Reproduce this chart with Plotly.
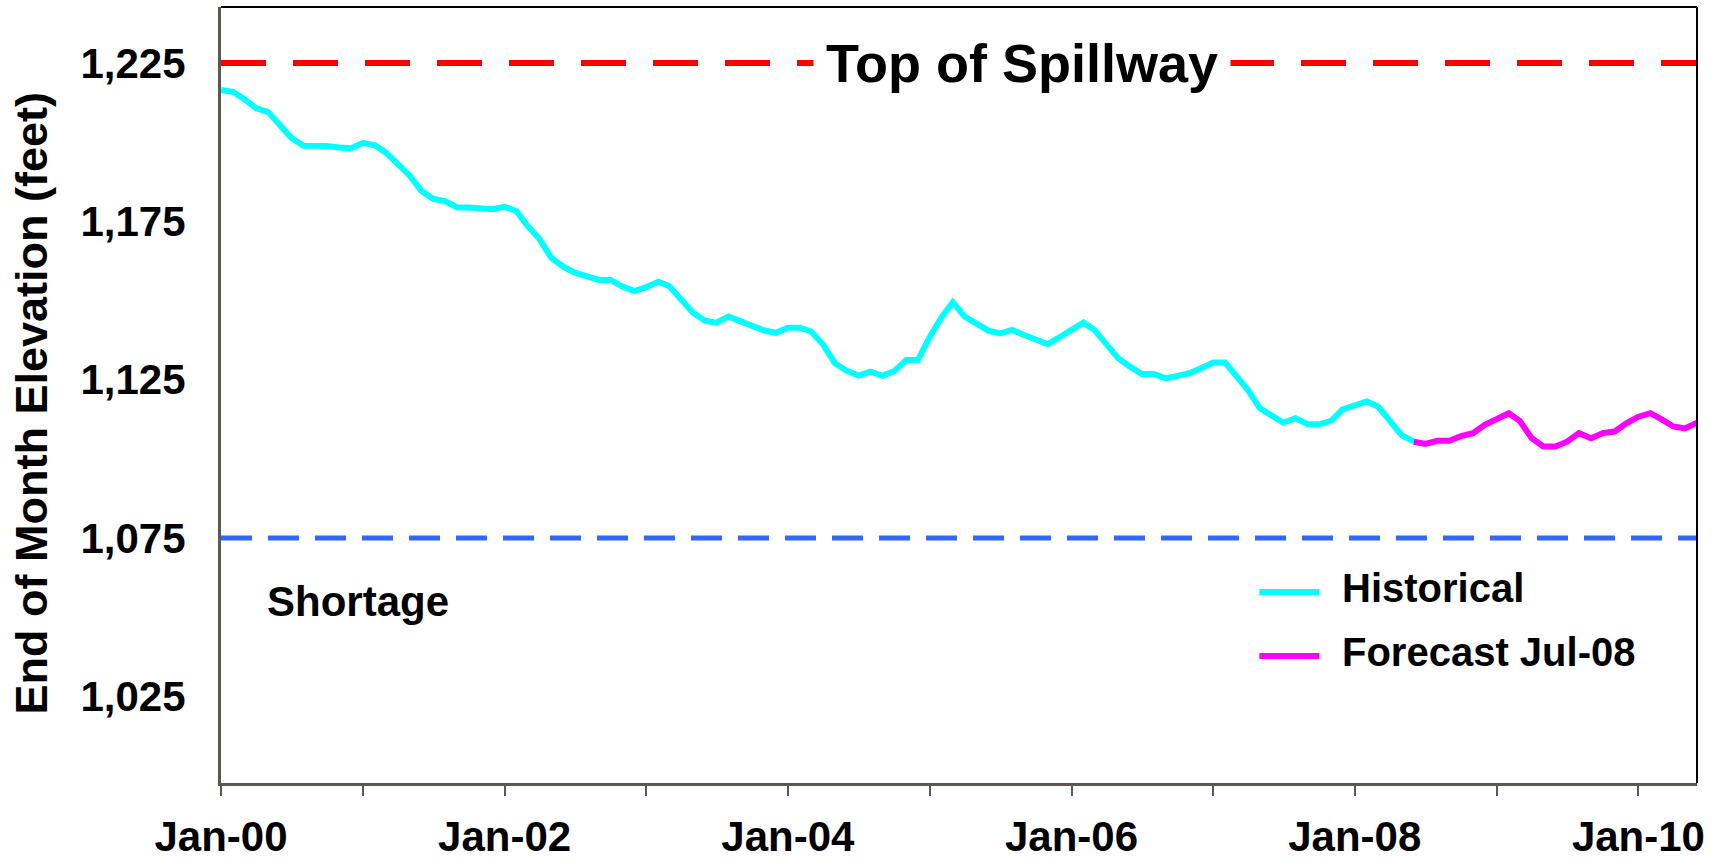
import pandas as pd
import plotly.graph_objects as go

# end-of-month elevations (feet), monthly from Jan-2000
hist_start = "2000-01-01"
hist_values = [
    1216.5, 1215.9, 1213.6, 1210.7, 1209.6, 1205.6, 1201.3, 1198.9, 1198.9, 1198.8, 1198.3, 1198.1,
    1199.8, 1199.0, 1196.7, 1192.7, 1189.5, 1184.6, 1182.1, 1181.4, 1179.4, 1179.4, 1178.9, 1178.8,
    1179.6, 1178.2, 1173.6, 1169.4, 1163.5, 1160.7, 1158.8, 1157.8, 1156.5, 1156.5, 1154.4, 1153.0,
    1154.2, 1155.9, 1154.6, 1150.3, 1146.2, 1143.6, 1143.0, 1144.9, 1143.3, 1142.0, 1140.5, 1139.8,
    1141.4, 1141.4, 1140.2, 1136.0, 1130.2, 1127.8, 1126.3, 1127.5, 1126.2, 1127.7, 1131.2, 1131.2,
    1138.6, 1144.9, 1149.4, 1144.9, 1142.8, 1140.5, 1139.6, 1140.7, 1139.1, 1137.5, 1136.2, 1138.4,
    1140.7, 1143.0, 1140.7, 1136.5, 1131.8, 1129.1, 1126.8, 1126.8, 1125.4, 1126.2, 1127.0, 1128.6,
    1130.4, 1130.4, 1126.0, 1121.7, 1116.0, 1113.5, 1111.4, 1112.8, 1111.0, 1110.9, 1112.0, 1115.6,
    1117.0, 1118.1, 1116.5, 1111.7, 1107.5, 1105.4,
]
fc_start = "2008-06-01"
fc_values = [
    1105.4, 1104.7, 1105.7, 1105.7, 1107.2, 1108.1, 1110.7, 1112.8, 1114.4, 1112.0, 1106.5, 1103.9,
    1103.9, 1105.4, 1108.1, 1106.5, 1108.1, 1108.6, 1111.2, 1113.3, 1114.4, 1112.5, 1110.2, 1109.6,
    1111.4,
]
spillway = 1225
shortage = 1075
y_ticks = [1025, 1075, 1125, 1175, 1225]

hist_dates = pd.date_range(hist_start, periods=len(hist_values), freq="MS")
fc_dates = pd.date_range(fc_start, periods=len(fc_values), freq="MS")

FONT = "Liberation Sans, Arial, sans-serif"
AXIS_GRAY = "#5d5651"

fig = go.Figure()
fig.add_trace(go.Scatter(x=hist_dates, y=hist_values, mode="lines", name="Historical",
                         line=dict(color="#00ffff", width=6)))
fig.add_trace(go.Scatter(x=fc_dates, y=fc_values, mode="lines", name="Forecast Jul-08",
                         line=dict(color="#ff00ff", width=6)))

fig.add_hline(y=spillway, line=dict(color="#ff0000", width=6, dash="45px,27px"), layer="below")
fig.add_hline(y=shortage, line=dict(color="#3366ff", width=5, dash="31px,16px"), layer="below")

# plot frame: top and right edges in black
fig.add_shape(type="line", xref="paper", yref="paper", x0=0, x1=1, y0=1, y1=1,
              line=dict(color="black", width=2))
fig.add_shape(type="line", xref="paper", yref="paper", x0=1, x1=1, y0=0, y1=1,
              line=dict(color="black", width=2))

fig.add_annotation(x=0.5425, xref="paper", y=spillway, yref="y", text="Top of Spillway",
                   showarrow=False, bgcolor="white", borderpad=12,
                   font=dict(family=FONT, size=54, color="black", weight="bold"))
fig.add_annotation(x=0.0295, xref="paper", xanchor="left", y=1055, yref="y", yanchor="middle",
                   text="Shortage", showarrow=False,
                   font=dict(family=FONT, size=42, color="black", weight="bold"))

# y-axis title as a rotated annotation (sits a little below the plot's centre)
fig.add_annotation(x=-0.1281, xref="paper", xanchor="center", y=0.489, yref="paper",
                   yanchor="middle", textangle=-90, showarrow=False,
                   text="End of Month Elevation (feet)",
                   font=dict(family=FONT, size=45, color="black", weight="bold"))

# legend drawn by hand to get the long line samples
legend_rows = [("Historical", "#00ffff", 0.2461), ("Forecast Jul-08", "#ff00ff", 0.1637)]
for label, color, yy in legend_rows:
    fig.add_shape(type="line", xref="paper", yref="paper", x0=0.7035, x1=0.7442, y0=yy, y1=yy,
                  line=dict(color=color, width=6))
    fig.add_annotation(x=0.7578, xref="paper", xanchor="left", y=yy + 0.005, yref="paper",
                       yanchor="middle", text=label, showarrow=False,
                       font=dict(family=FONT, size=40, color="black", weight="bold"))

fig.update_layout(
    width=1731, height=862,
    margin=dict(l=221, r=34, t=7, b=79),
    paper_bgcolor="white", plot_bgcolor="white",
    showlegend=False,
    font=dict(family=FONT, color="black"),
)
fig.update_xaxes(
    range=["2000-01-01", "2010-06-01"], automargin=False,
    tick0="2000-01-01", dtick="M24", tickformat="%b-%y",
    ticks="outside", ticklen=10, tickwidth=2, tickcolor=AXIS_GRAY,
    minor=dict(dtick="M12", ticks="outside", ticklen=10, tickwidth=2, tickcolor=AXIS_GRAY),
    showline=True, linecolor=AXIS_GRAY, linewidth=3,
    showgrid=False, zeroline=False, ticklabelstandoff=5,
    tickfont=dict(family=FONT, size=42, color="black", weight="bold"),
)
fig.update_yaxes(
    range=[997.6, 1242.7], automargin=False,
    tickvals=y_ticks, tickformat=",d",
    showline=True, linecolor=AXIS_GRAY, linewidth=3,
    showgrid=False, zeroline=False, ticks="", ticklabelstandoff=24,
    tickfont=dict(family=FONT, size=42, color="black", weight="bold"),
)

# page has a default body margin; drop it so the figure fills the window exactly
fig.write_html("out.html", config={"displayModeBar": False},
               post_script="document.body.style.margin='0';")
